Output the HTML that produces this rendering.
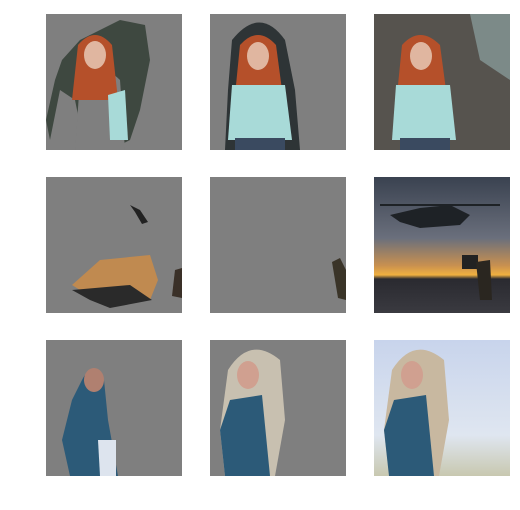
<!DOCTYPE html>
<html><head><meta charset="utf-8"><style>
html,body{margin:0;padding:0;background:#fff;width:520px;height:510px;overflow:hidden}
svg{display:block}
</style></head><body>
<svg width="520" height="510" viewBox="0 0 520 510">
<defs>
<linearGradient id="sky" x1="0" y1="0" x2="0" y2="1">
<stop offset="0" stop-color="#3a4250"/><stop offset="0.45" stop-color="#6a6f7c"/><stop offset="0.65" stop-color="#c89050"/><stop offset="0.72" stop-color="#f0b040"/><stop offset="0.75" stop-color="#2a2a30"/><stop offset="1" stop-color="#3a3a40"/>
</linearGradient>
<linearGradient id="pale" x1="0" y1="0" x2="0" y2="1">
<stop offset="0" stop-color="#c8d4ec"/><stop offset="0.7" stop-color="#dfe6f0"/><stop offset="1" stop-color="#c8c8b0"/>
</linearGradient>
</defs>
<!-- row 1 -->
<g>
<rect x="46" y="14" width="136" height="136" fill="#7f7f7f"/>
<path d="M62 60 L80 40 L100 30 L120 20 L145 25 L150 60 L140 110 L130 140 L110 150 L85 150 L75 100 L60 90 L50 140 L46 120 L55 80 Z" fill="#3e4840"/>
<path d="M80 80 Q100 60 120 80 L125 150 L75 150 Z" fill="#7f7f7f"/>
<path d="M78 45 Q95 25 112 45 L118 100 L72 100 Z" fill="#b5502a"/>
<ellipse cx="95" cy="55" rx="11" ry="14" fill="#e0b6a0"/>
<path d="M108 95 L125 90 L128 140 L110 140 Z" fill="#a8dad8"/>
</g>
<g>
<rect x="210" y="14" width="136" height="136" fill="#7f7f7f"/>
<path d="M232 40 Q260 5 285 40 L295 90 L300 150 L225 150 L228 90 Z" fill="#2e3436"/>
<path d="M240 45 Q258 25 276 45 L284 105 L234 105 Z" fill="#b5502a"/>
<ellipse cx="258" cy="56" rx="11" ry="14" fill="#e0b6a0"/>
<path d="M232 85 L285 85 L292 140 L228 140 Z" fill="#a8dad8"/>
<rect x="235" y="138" width="50" height="12" fill="#3a4a60"/>
</g>
<g>
<rect x="374" y="14" width="136" height="136" fill="#4a4e48"/>
<rect x="374" y="14" width="136" height="136" fill="#6a5c58" opacity="0.4"/>
<path d="M470 14 L510 14 L510 80 L480 60 Z" fill="#7c8a88"/>
<path d="M402 45 Q420 25 440 45 L448 105 L396 105 Z" fill="#b5502a"/>
<ellipse cx="421" cy="56" rx="11" ry="14" fill="#e0b6a0"/>
<path d="M396 85 L450 85 L456 140 L392 140 Z" fill="#a8dad8"/>
<rect x="400" y="138" width="50" height="12" fill="#3a4a60"/>
</g>
<!-- row 2 -->
<g>
<rect x="46" y="177" width="136" height="136" fill="#7f7f7f"/>
<path d="M72 285 L100 260 L150 255 L158 280 L150 300 L120 305 L120 295 L80 290 Z" fill="#c08a50"/>
<path d="M72 290 L130 285 L152 300 L110 308 L90 300 Z" fill="#2a2a2a"/>
<path d="M130 205 L140 210 L148 222 L142 224 L135 212 Z" fill="#222"/>
<path d="M175 270 L182 268 L182 298 L172 296 Z" fill="#3a3028"/>
</g>
<g>
<rect x="210" y="177" width="136" height="136" fill="#7f7f7f"/>
<path d="M332 262 L340 258 L346 270 L346 300 L338 298 Z" fill="#3a3428"/>
</g>
<g>
<rect x="374" y="177" width="136" height="136" fill="url(#sky)"/>
<path d="M390 215 L420 208 L450 205 L470 215 L460 225 L420 228 L400 222 Z" fill="#1e2226"/>
<rect x="380" y="204" width="120" height="2" fill="#1e2226"/>
<rect x="462" y="255" width="16" height="14" fill="#222"/>
<path d="M476 262 L490 260 L492 300 L480 300 Z" fill="#2a2620"/>
</g>
<!-- row 3 -->
<g>
<rect x="46" y="340" width="136" height="136" fill="#7f7f7f"/>
<path d="M82 380 Q92 360 104 380 L108 420 L118 476 L70 476 L62 440 L72 400 Z" fill="#2c5a78"/>
<ellipse cx="94" cy="380" rx="10" ry="12" fill="#b08070"/>
<path d="M98 440 L116 440 L116 476 L100 476 Z" fill="#dde4ee"/>
</g>
<g>
<rect x="210" y="340" width="136" height="136" fill="#7f7f7f"/>
<path d="M228 370 Q250 335 280 360 L285 420 L275 476 L225 476 L220 430 Z" fill="#c8c0b0"/>
<path d="M230 400 L262 395 L270 476 L225 476 L220 430 Z" fill="#2c5a78"/>
<ellipse cx="248" cy="375" rx="11" ry="14" fill="#d0a090"/>
</g>
<g>
<rect x="374" y="340" width="136" height="136" fill="url(#pale)"/>
<path d="M392 370 Q414 335 444 360 L449 420 L439 476 L389 476 L384 430 Z" fill="#c8b8a0"/>
<path d="M394 400 L426 395 L434 476 L389 476 L384 430 Z" fill="#2c5a78"/>
<ellipse cx="412" cy="375" rx="11" ry="14" fill="#d0a090"/>
</g>
</svg>
</body></html>
